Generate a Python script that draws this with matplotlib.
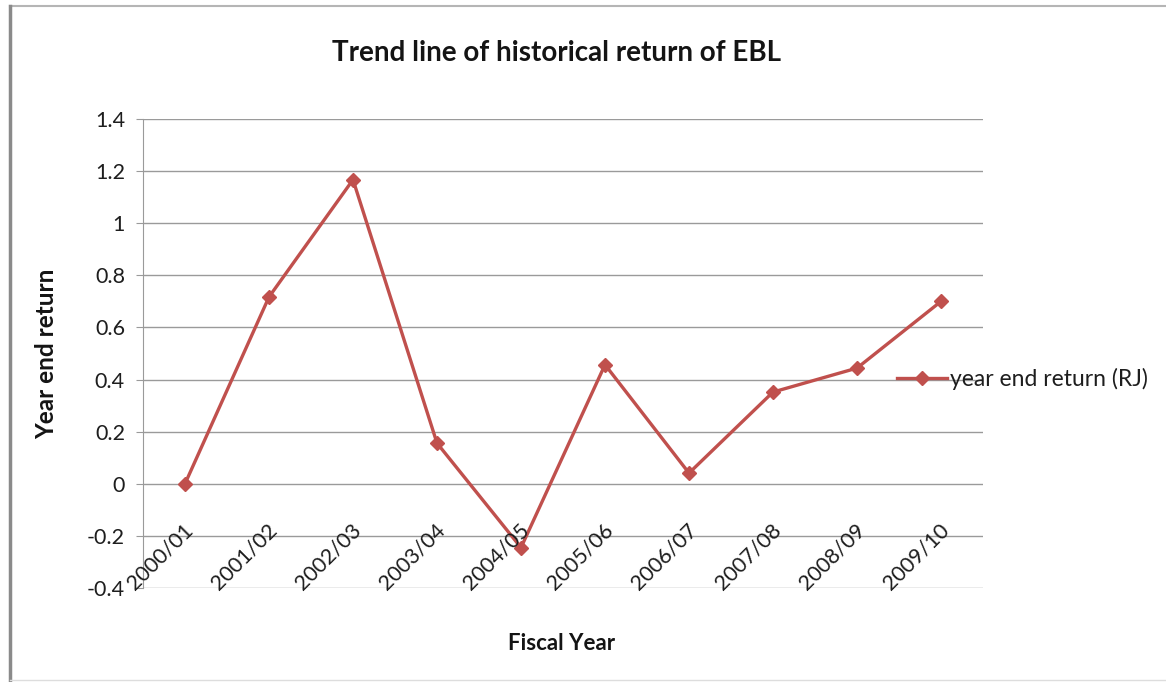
import matplotlib
matplotlib.use("Agg")
import matplotlib.pyplot as plt
from matplotlib.lines import Line2D

# data
fiscal_years = ["2000/01", "2001/02", "2002/03", "2003/04", "2004/05",
                "2005/06", "2006/07", "2007/08", "2008/09", "2009/10"]
year_end_return = [0.0, 0.717, 1.167, 0.156, -0.245, 0.457, 0.041, 0.352, 0.444, 0.70]
y_ticks = [-0.4, -0.2, 0, 0.2, 0.4, 0.6, 0.8, 1.0, 1.2, 1.4]

plt.rcParams["font.family"] = ["Lato", "DejaVu Sans"]

W, H = 1166, 682
fig = plt.figure(figsize=(W / 100, H / 100), dpi=100)
fig.patch.set_facecolor("white")

ax = fig.add_axes([143 / W, 1 - 588 / H, 840 / W, 469 / H])
x = list(range(len(fiscal_years)))
ax.plot(x, year_end_return, color="#C0504D", lw=2.4, marker="D", ms=7.5,
        label="year end return (RJ)", zorder=3)

ax.set_xlim(-0.5, len(fiscal_years) - 0.5)
ax.set_ylim(-0.4, 1.4)
ax.set_yticks(y_ticks)
ax.set_yticklabels([f"{round(v, 1):g}" for v in y_ticks])
ax.grid(axis="y", color="#9a9a9a", lw=1)
ax.set_axisbelow(True)
for s in ["top", "right", "bottom"]:
    ax.spines[s].set_visible(False)
ax.spines["left"].set_color("#9a9a9a")
ax.set_xticks([])
ax.tick_params(axis="y", length=5, color="#9a9a9a", labelsize=15.5, pad=8,
               labelcolor="#1e1e1e")

# category labels sit just under the zero line, rotated like excel does
for i, lab in enumerate(fiscal_years):
    ax.annotate(lab, xy=(i, 0), xytext=(-1.5, -26), textcoords="offset points",
                rotation=45, rotation_mode="anchor", ha="right", va="top",
                fontsize=15.5, color="#1e1e1e")

fig.text(556 / W, 1 - 61 / H, "Trend line of historical return of EBL",
         ha="center", va="baseline", fontsize=20, fontweight="bold", color="#141414")
fig.text(47 / W, 1 - 354 / H, "Year end return", rotation=90, ha="center",
         va="center", fontsize=17.5, fontweight="bold", color="#141414")
fig.text(562 / W, 1 - 643 / H, "Fiscal Year", ha="center", va="center",
         fontsize=16, fontweight="bold", color="#141414")

fig.legend(loc="center left", bbox_to_anchor=(897 / W, 1 - 379 / H), frameon=False,
           handlelength=2.2, handletextpad=0.1, borderpad=0, borderaxespad=0,
           fontsize=16.5, labelcolor="#1e1e1e")

# chart border
fig.add_artist(Line2D([10 / W, 1], [1 - 6 / H, 1 - 6 / H], transform=fig.transFigure,
                      color="#b5b5b5", lw=1.5))
fig.add_artist(Line2D([10 / W, 10 / W], [1 - 6 / H, 1 - 680 / H], transform=fig.transFigure,
                      color="#8a8a8a", lw=2.5))
fig.add_artist(Line2D([10 / W, 1], [1 - 680 / H, 1 - 680 / H], transform=fig.transFigure,
                      color="#dddddd", lw=1))

fig.savefig("out.png", dpi=100)
